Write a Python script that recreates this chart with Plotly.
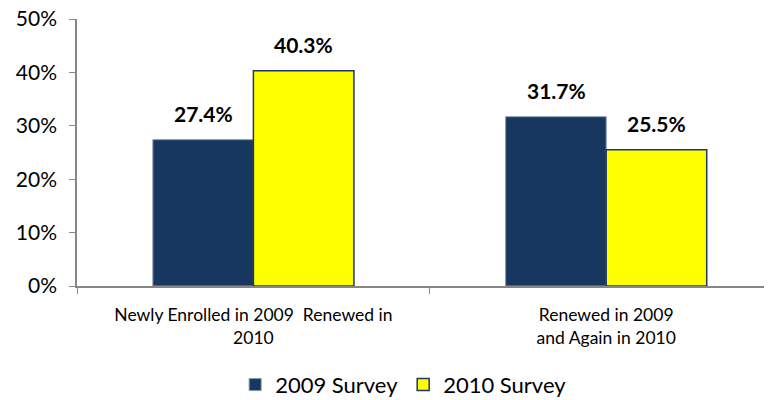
import plotly.graph_objects as go

categories = ["Newly Enrolled in 2009  Renewed in<br>2010", "Renewed in 2009<br>and Again in 2010"]
survey_2009 = [0.274, 0.317]
survey_2010 = [0.403, 0.255]
series_names = ["2009 Survey", "2010 Survey"]
y_ticks = [0, 0.1, 0.2, 0.3, 0.4, 0.5]

font_family = "Lato"
navy = "#17375E"
yellow = "#FFFF00"

fig = go.Figure()
fig.add_trace(
    go.Bar(
        x=categories,
        y=survey_2009,
        name=series_names[0],
        marker=dict(color=navy, line=dict(color="#8497B0", width=1)),
    )
)
fig.add_trace(
    go.Bar(
        x=categories,
        y=survey_2010,
        name=series_names[1],
        marker=dict(color=yellow, line=dict(color="#1F3864", width=1.5)),
    )
)

# value labels above each bar
for values, shift in [(survey_2009, -50), (survey_2010, 50)]:
    for cat, v in zip(categories, values):
        fig.add_annotation(
            x=cat,
            y=v,
            xshift=shift,
            yshift=12,
            yanchor="bottom",
            text=f"<b>{v * 100:.1f}%</b>",
            showarrow=False,
            font=dict(family=font_family, size=21, color="black"),
        )

# the page body adds an 8px margin, so the figure is 8px smaller on each side
fig.update_layout(
    width=764,
    height=392,
    margin=dict(l=69, r=0, t=11, b=114, autoexpand=False),
    plot_bgcolor="white",
    paper_bgcolor="white",
    barmode="group",
    bargap=0.43,
    bargroupgap=0,
    font=dict(family=font_family, size=17, color="black"),
    showlegend=True,
    legend=dict(
        orientation="h",
        x=0.47,
        xanchor="center",
        y=-0.37,
        yanchor="middle",
        font=dict(family=font_family, size=22, color="black"),
        itemwidth=30,
        traceorder="normal",
    ),
    xaxis=dict(
        type="category",
        range=[-0.5, 1.47],
        automargin=False,
        showline=True,
        linecolor="#868686",
        linewidth=1.5,
        ticks="outside",
        tickson="boundaries",
        ticklen=6,
        tickcolor="#868686",
        ticklabelstandoff=12,
        tickfont=dict(family=font_family, size=17.5),
    ),
    yaxis=dict(
        range=[0, 0.5],
        automargin=False,
        tickvals=y_ticks,
        tickformat=".0%",
        ticklabeloverflow="allow",
        showgrid=False,
        zeroline=False,
        showline=True,
        linecolor="#868686",
        linewidth=1.5,
        ticks="outside",
        ticklen=6,
        tickcolor="#868686",
        ticklabelstandoff=8,
        tickfont=dict(family=font_family, size=21),
    ),
)

fig.write_html("out.html")
